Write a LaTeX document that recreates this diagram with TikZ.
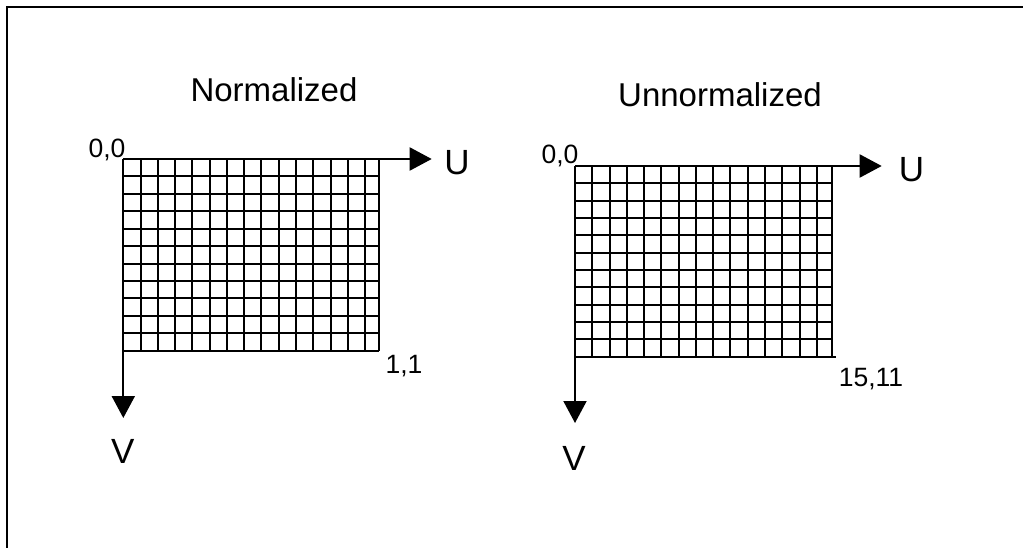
\documentclass[tikz,border=0pt]{standalone}
\usepackage{fontspec}
\setmainfont{Liberation Sans}
\usetikzlibrary{arrows.meta}
\begin{document}
\begin{tikzpicture}[x=1pt,y=-1pt,
  gridline/.style={line width=2pt},
  axis/.style={line width=2pt,-{Triangle[length=22pt,width=23pt]}},
  frameline/.style={line width=2.6pt},
  title/.style={font=\fontsize{33}{36}\selectfont, inner sep=0pt, anchor=base},
  axlabel/.style={font=\fontsize{35}{38}\selectfont, inner sep=0pt, anchor=base},
  coordlabel/.style={font=\fontsize{26.5}{28}\selectfont, inner sep=0pt, anchor=base}]
\useasboundingbox (0,0) rectangle (1023,548);
\draw[frameline] (7,548) -- (7,7) -- (1023,7);

% ---------- Normalized ----------
\node[title] (tN) at (274,101.4) {Normalized};
\coordinate (oN) at (123.3,159);
\coordinate (uN) at (431.7,159);
\coordinate (vN) at (123.3,418);
\foreach \k in {1,...,14} \draw[gridline] (123.3+\k*17.27,159) -- (123.3+\k*17.27,350.7);
\draw[gridline] (379,159) -- (379,350.7);
\foreach \k in {1,...,11} \draw[gridline] (123.3,159+\k*17.43) -- (379,159+\k*17.43);
\draw[axis] (oN) -- (uN);
\draw[axis] (oN) -- (vN);
\node[coordlabel] (zN) at (107,158) {0,0};
\node[coordlabel] (eN) at (404,373.3) {1,1};
\node[axlabel] (UN) at (457,174.5) {U};
\node[axlabel] (VN) at (122.7,463) {V};

% ---------- Unnormalized ----------
\node[title] (tU) at (720,106.6) {Unnormalized};
\coordinate (oU) at (575,166);
\coordinate (uU) at (881.7,166);
\coordinate (vU) at (575,423);
\foreach \k in {1,...,14} \draw[gridline] (575+\k*17.27,166) -- (575+\k*17.27,356.7);
\draw[gridline] (831.7,166) -- (831.7,356.7);
\foreach \k in {1,...,10} \draw[gridline] (575,166+\k*17.34) -- (831.7,166+\k*17.34);
\draw[gridline] (575,356.7) -- (836,356.7);
\draw[axis] (oU) -- (uU);
\draw[axis] (oU) -- (vU);
\node[coordlabel] (zU) at (560,163.3) {0,0};
\node[coordlabel] (eU) at (871,386.7) {15,11};
\node[axlabel] (UU) at (911.5,181.7) {U};
\node[axlabel] (VU) at (574,470) {V};
\end{tikzpicture}
\end{document}
